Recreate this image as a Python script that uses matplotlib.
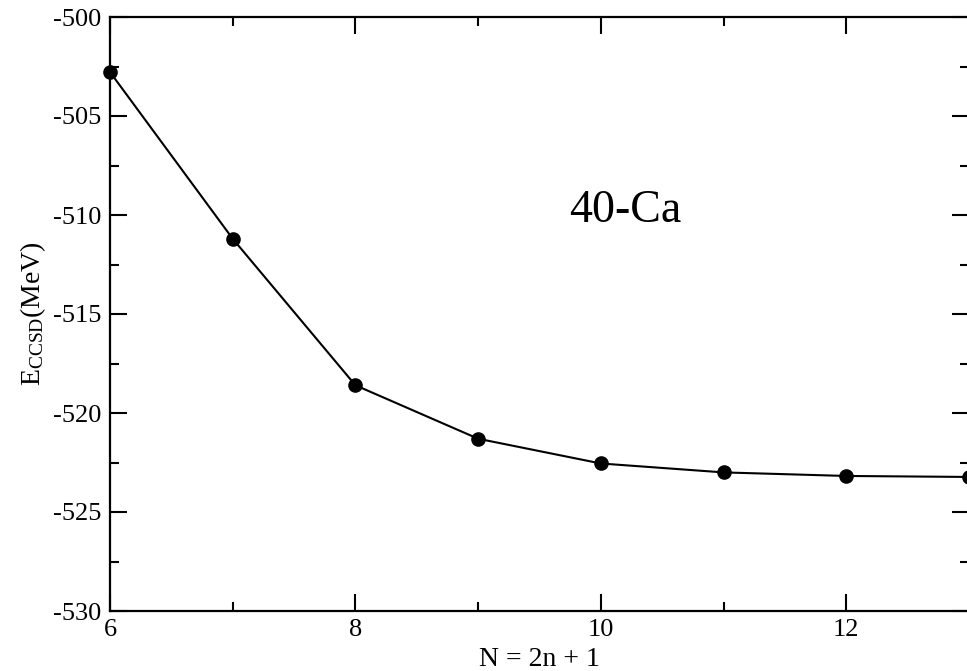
import matplotlib
matplotlib.use("Agg")
import matplotlib.pyplot as plt
from matplotlib.ticker import MultipleLocator

N = [6, 7, 8, 9, 10, 11, 12, 13]
E_ccsd = [-502.78, -511.2, -518.6, -521.3, -522.55, -523.0, -523.18, -523.23]
label_text = "40-Ca"

plt.rcParams['font.family'] = ['Liberation Serif', 'DejaVu Serif']
plt.rcParams['mathtext.fontset'] = 'custom'
plt.rcParams['mathtext.rm'] = 'Liberation Serif'
plt.rcParams['mathtext.it'] = 'Liberation Serif:italic'
plt.rcParams['axes.unicode_minus'] = False

fig = plt.figure(figsize=(9.67, 6.71), dpi=100)
ax = fig.add_axes([110/967, 60/671, 859/967, 594/671])

ax.plot(N, E_ccsd, color='black', lw=1.5, marker='o', ms=9.5, clip_on=False, zorder=5)

ax.set_xlim(6, 13)
ax.set_ylim(-530, -500)
ax.xaxis.set_major_locator(MultipleLocator(2))
ax.xaxis.set_minor_locator(MultipleLocator(1))
ax.yaxis.set_major_locator(MultipleLocator(5))
ax.yaxis.set_minor_locator(MultipleLocator(2.5))

ax.tick_params(which='both', direction='in', top=True, right=True, width=1.5, colors='black')
ax.tick_params(which='major', length=12, labelsize=19, pad=6)
ax.tick_params(which='minor', length=6.5)
ax.tick_params(axis='x', which='major', pad=6)

for s in ax.spines.values():
    s.set_linewidth(1.6)

ax.set_xlabel('N = 2n + 1', fontsize=20, labelpad=4)
ax.set_ylabel(r'$\mathrm{E_{CCSD}}$(MeV)', fontsize=20, labelpad=4)

ax.text(10.2, -509.8, label_text, fontsize=33, ha='center', va='center')

fig.savefig('out.png', dpi=100)
